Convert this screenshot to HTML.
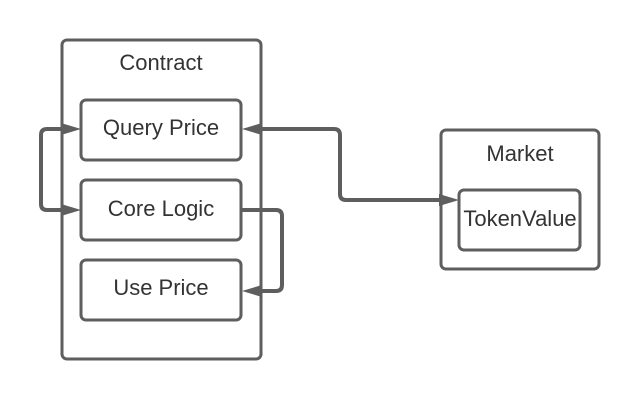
<!DOCTYPE html>
<html><head><meta charset="utf-8"><style>html,body{margin:0;padding:0;background:#fff}</style></head>
<body>
<svg width="640" height="400" xmlns="http://www.w3.org/2000/svg" style="display:block">
<rect width="640" height="400" fill="#fff"/>
<g fill="none" stroke="#5e5e5e" stroke-width="3">
<rect x="62" y="40" width="199" height="319" rx="5"/>
<rect x="81" y="100" width="160" height="60" rx="5"/>
<rect x="81" y="180" width="160" height="60" rx="5"/>
<rect x="81" y="260" width="160" height="60" rx="5"/>
<rect x="441" y="130" width="158" height="139" rx="5"/>
<rect x="459" y="190" width="121" height="60" rx="5"/>
<g stroke-width="4">
<path d="M64 129 H47 Q41 129 41 135 V204 Q41 210 47 210 H64"/>
<path d="M241 210 H276 Q282 210 282 216 V285 Q282 291 276 291 H262"/>
<path d="M262 129 H334 Q340 129 340 135 V194 Q340 200 346 200 H440"/>
</g>
</g>
<g fill="#5e5e5e">
<polygon points="81,129 61,123 61,135"/>
<polygon points="81,210 61,204 61,216"/>
<polygon points="242,291 262,285 262,297"/>
<polygon points="242,129 262,123 262,135"/>
<polygon points="459,200 439,194 439,206"/>
</g>
<g font-family="Liberation Sans, sans-serif" font-size="22" fill="#333" text-anchor="middle">
<text x="161" y="70">Contract</text>
<text x="161" y="135">Query Price</text>
<text x="161" y="216">Core Logic</text>
<text x="161" y="295">Use Price</text>
<text x="520" y="161">Market</text>
<text x="520" y="226">TokenValue</text>
</g>
</svg>
</body></html>
